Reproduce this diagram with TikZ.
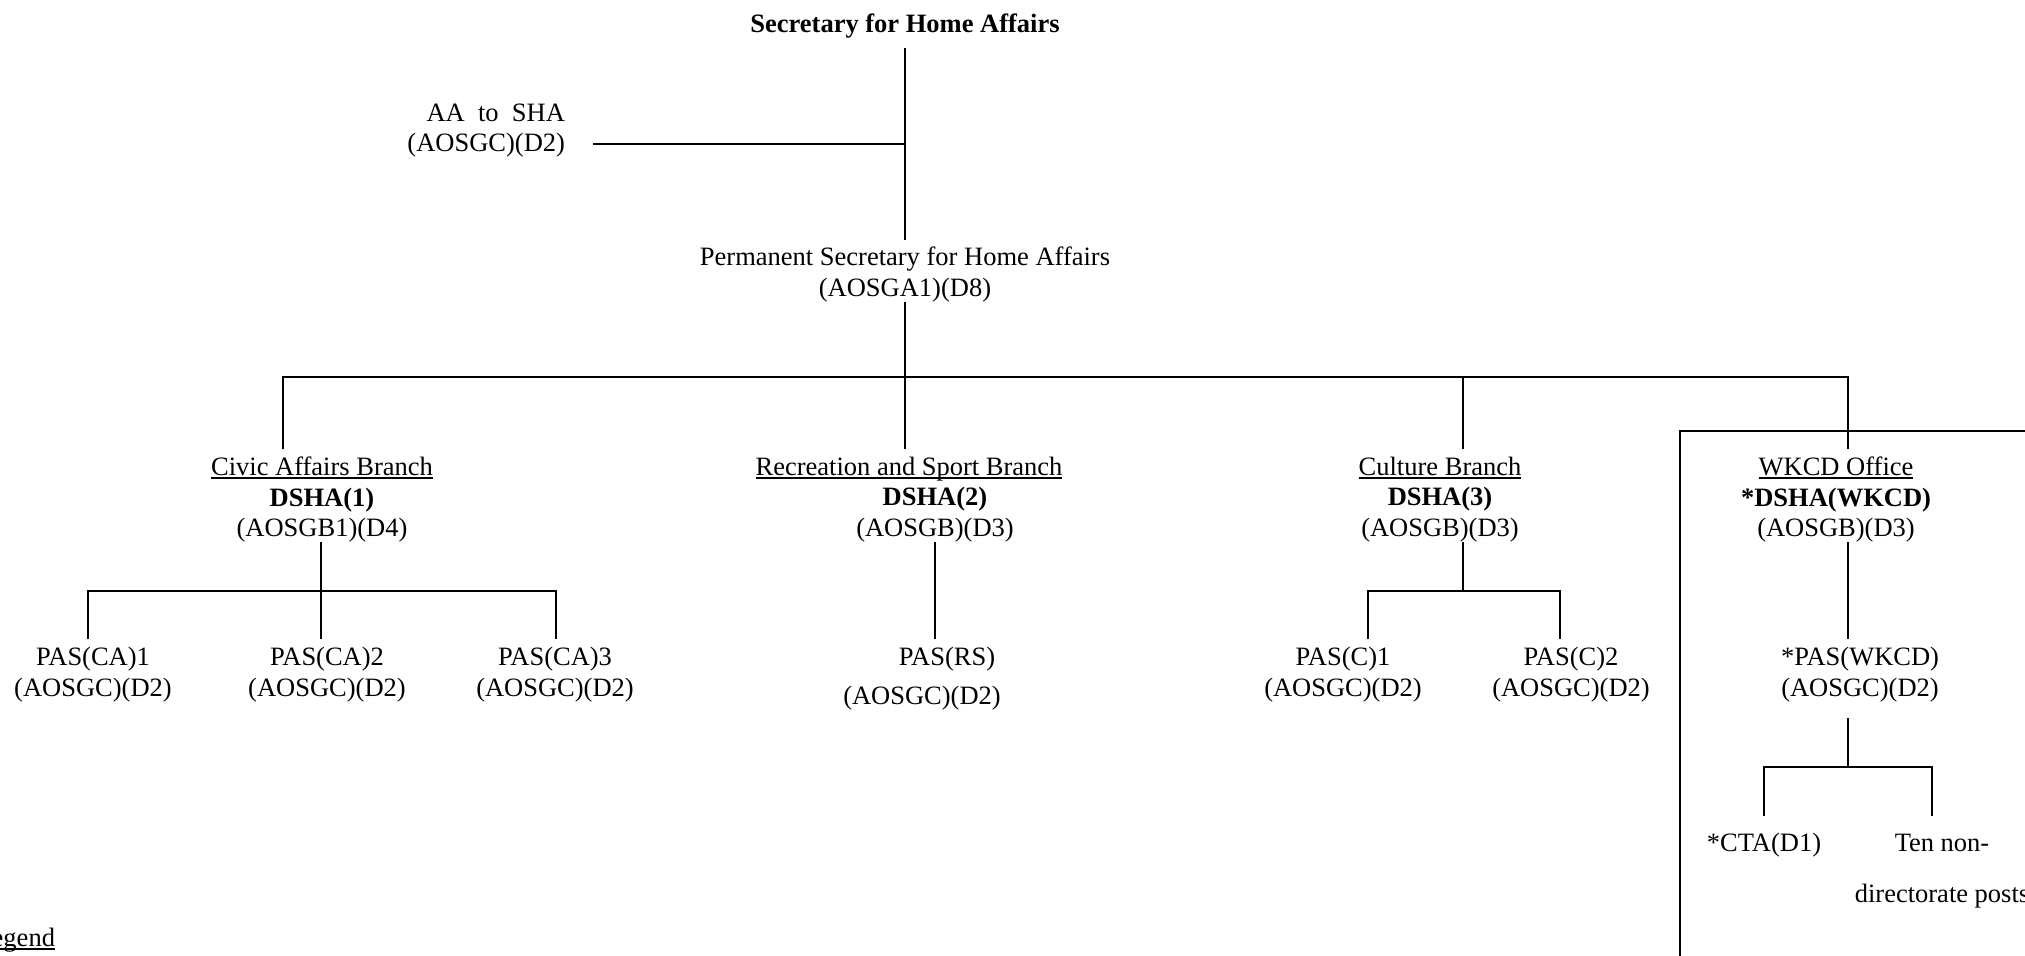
\documentclass[tikz,border=0pt]{standalone}
\usepackage{fontspec}
\setmainfont{Liberation Serif}
\newcommand\undl[1]{\setbox0=\hbox{#1}\rlap{\rule[-3.2pt]{\wd0}{1.3pt}}\box0}
\begin{document}
\begin{tikzpicture}[x=1pt,y=-1pt,
  every node/.style={inner sep=0pt,outer sep=0pt,align=center,font=\fontsize{26.5}{30.5}\selectfont},
  conn/.style={line width=1.5pt},
  bus/.style={line width=1.9pt}]
\useasboundingbox (0,0) rectangle (2025,955);
% nodes
\node (sha) at (905,26.5) {\textbf{Secretary for Home Affairs}};
\node[anchor=east,align=right] (aa) at (565,130.5) {AA\ \ to\ \ SHA\\(AOSGC)(D2)};
\node (ps) at (905,274.5) {Permanent Secretary for Home Affairs\\(AOSGA1)(D8)};
\node (ca) at (322,499.5) {\undl{Civic Affairs Branch}\\\textbf{DSHA(1)}\\(AOSGB1)(D4)};
\node (rs) at (909,499.5) {\undl{Recreation and Sport Branch}\\\hspace*{52pt}\textbf{DSHA(2)}\\\hspace*{52pt}(AOSGB)(D3)};
\node (cu) at (1440,499.5) {\undl{Culture Branch}\\\textbf{DSHA(3)}\\(AOSGB)(D3)};
\node (wk) at (1836,499.5) {\undl{WKCD Office}\\\textbf{*DSHA(WKCD)}\\(AOSGB)(D3)};
\node (ca1) at (93,674.5) {PAS(CA)1\\(AOSGC)(D2)};
\node (ca2) at (327,674.5) {PAS(CA)2\\(AOSGC)(D2)};
\node (ca3) at (555,674.5) {PAS(CA)3\\(AOSGC)(D2)};
\node (rs1) at (922,678.5) {\hspace*{50pt}PAS(RS)\\[8.5pt](AOSGC)(D2)};
\node (c1) at (1343,674.5) {PAS(C)1\\(AOSGC)(D2)};
\node (c2) at (1571,674.5) {PAS(C)2\\(AOSGC)(D2)};
\node (wk1) at (1860,674.5) {*PAS(WKCD)\\(AOSGC)(D2)};
\node (cta) at (1764,845) {*CTA(D1)};
\node (ten) at (1942,871.5) {Ten non-\\[20.5pt]directorate posts};
\node[anchor=east] (leg) at (55,940) {\undl{Legend}};
% junction coordinates
\coordinate (shaB) at (905,48);
\coordinate (aaE) at (593,144);
\coordinate (aaJ) at (905,144);
\coordinate (psT) at (905,240);
\coordinate (psB) at (905,302);
\coordinate (busL) at (283,377);
\coordinate (busR) at (1848,377);
\coordinate (busM) at (905,377);
\coordinate (busC) at (1463,377);
\coordinate (caT) at (283,449);
\coordinate (rsT) at (905,449);
\coordinate (cuT) at (1463,449);
\coordinate (wkT) at (1848,449);
\coordinate (caB) at (321,542);
\coordinate (caJ) at (321,591);
\coordinate (ca1T) at (88,639);
\coordinate (ca2T) at (321,639);
\coordinate (ca3T) at (556,639);
\coordinate (rsB) at (935,542);
\coordinate (rs1T) at (935,639);
\coordinate (cuB) at (1463,542);
\coordinate (cuJ) at (1463,591);
\coordinate (c1T) at (1368,639);
\coordinate (c2T) at (1560,639);
\coordinate (wkB) at (1848,542);
\coordinate (wk1T) at (1848,639);
\coordinate (wk1B) at (1848,718);
\coordinate (wkJ) at (1848,767);
\coordinate (ctaT) at (1764,816);
\coordinate (tenT) at (1932,816);
\coordinate (boxTR) at (2100,431);
\coordinate (boxBL) at (1680,1000);
% connectors
\draw[conn] (shaB) -- (psT);
\draw[bus] (aaE) -- (aaJ);
\draw[conn] (psB) -- (rsT);
\draw[bus] (caT) |- (busL) -- (busR) -- (wkT);
\draw[conn] (busC) -- (cuT);
\draw[conn] (caB) -- (ca2T);
\draw[bus] (ca1T) |- (caJ) -| (ca3T);
\draw[conn] (rsB) -- (rs1T);
\draw[conn] (cuB) -- (cuJ);
\draw[bus] (c1T) |- (cuJ) -| (c2T);
\draw[conn] (wkB) -- (wk1T);
\draw[conn] (wk1B) -- (wkJ);
\draw[bus] (ctaT) |- (wkJ) -| (tenT);
\draw[bus] (boxTR) -| (boxBL);
\end{tikzpicture}
\end{document}
